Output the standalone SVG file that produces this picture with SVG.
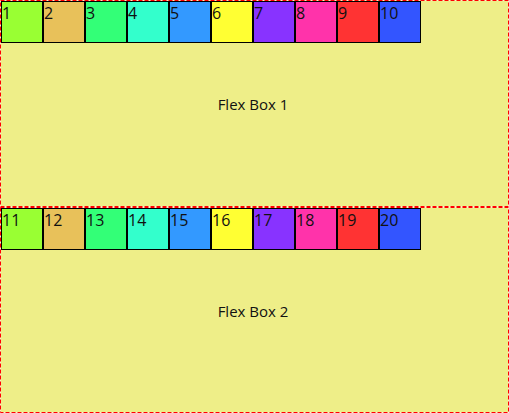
<svg xmlns="http://www.w3.org/2000/svg" width="509" height="413" viewBox="0 0 509 413">
<style>
.box{fill:#eeee88;stroke:#ff0000;stroke-width:1;stroke-dasharray:4,2}
.sq{stroke:#000;stroke-width:1}
.num{font-family:"Open Sans","Noto Sans",sans-serif;font-size:16px;fill:#111}
.lbl{font-family:"Open Sans","Noto Sans",sans-serif;font-size:15px;fill:#111;text-anchor:middle}
</style>
<g id="flexbox1">
<rect class="box" x="0.5" y="0.5" width="508" height="206"/>
<text class="lbl" x="253" y="110">Flex Box 1</text>
</g>
<g id="flexbox2">
<rect class="box" x="0.5" y="207.5" width="508" height="205"/>
<text class="lbl" x="253" y="317">Flex Box 2</text>
</g>
<g id="n1"><rect class="sq" x="1.5" y="1.5" width="41" height="41" fill="#99ff33"/><text class="num" x="2" y="19">1</text></g>
<g id="n2"><rect class="sq" x="43.5" y="1.5" width="41" height="41" fill="#e8c15a"/><text class="num" x="44" y="19">2</text></g>
<g id="n3"><rect class="sq" x="85.5" y="1.5" width="41" height="41" fill="#33ff77"/><text class="num" x="86" y="19">3</text></g>
<g id="n4"><rect class="sq" x="127.5" y="1.5" width="41" height="41" fill="#33ffcc"/><text class="num" x="128" y="19">4</text></g>
<g id="n5"><rect class="sq" x="169.5" y="1.5" width="41" height="41" fill="#3399ff"/><text class="num" x="170" y="19">5</text></g>
<g id="n6"><rect class="sq" x="211.5" y="1.5" width="41" height="41" fill="#ffff33"/><text class="num" x="212" y="19">6</text></g>
<g id="n7"><rect class="sq" x="253.5" y="1.5" width="41" height="41" fill="#8833ff"/><text class="num" x="254" y="19">7</text></g>
<g id="n8"><rect class="sq" x="295.5" y="1.5" width="41" height="41" fill="#ff33aa"/><text class="num" x="296" y="19">8</text></g>
<g id="n9"><rect class="sq" x="337.5" y="1.5" width="41" height="41" fill="#ff3333"/><text class="num" x="338" y="19">9</text></g>
<g id="n10"><rect class="sq" x="379.5" y="1.5" width="41" height="41" fill="#3355ff"/><text class="num" x="380" y="19">10</text></g>
<g id="n11"><rect class="sq" x="1.5" y="208.5" width="41" height="41" fill="#99ff33"/><text class="num" x="2" y="226">11</text></g>
<g id="n12"><rect class="sq" x="43.5" y="208.5" width="41" height="41" fill="#e8c15a"/><text class="num" x="44" y="226">12</text></g>
<g id="n13"><rect class="sq" x="85.5" y="208.5" width="41" height="41" fill="#33ff77"/><text class="num" x="86" y="226">13</text></g>
<g id="n14"><rect class="sq" x="127.5" y="208.5" width="41" height="41" fill="#33ffcc"/><text class="num" x="128" y="226">14</text></g>
<g id="n15"><rect class="sq" x="169.5" y="208.5" width="41" height="41" fill="#3399ff"/><text class="num" x="170" y="226">15</text></g>
<g id="n16"><rect class="sq" x="211.5" y="208.5" width="41" height="41" fill="#ffff33"/><text class="num" x="212" y="226">16</text></g>
<g id="n17"><rect class="sq" x="253.5" y="208.5" width="41" height="41" fill="#8833ff"/><text class="num" x="254" y="226">17</text></g>
<g id="n18"><rect class="sq" x="295.5" y="208.5" width="41" height="41" fill="#ff33aa"/><text class="num" x="296" y="226">18</text></g>
<g id="n19"><rect class="sq" x="337.5" y="208.5" width="41" height="41" fill="#ff3333"/><text class="num" x="338" y="226">19</text></g>
<g id="n20"><rect class="sq" x="379.5" y="208.5" width="41" height="41" fill="#3355ff"/><text class="num" x="380" y="226">20</text></g>
<g id="connectors"/>
</svg>
